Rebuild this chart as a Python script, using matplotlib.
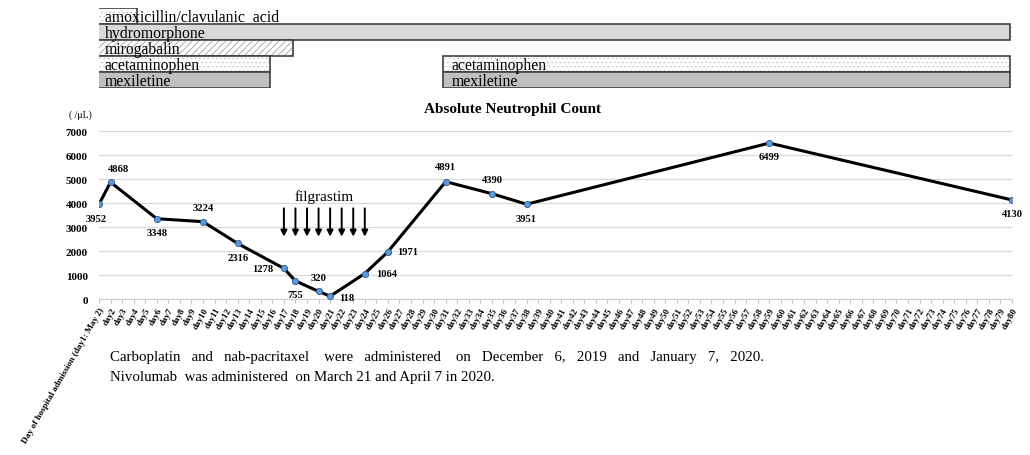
import matplotlib
matplotlib.use("Agg")
import matplotlib.pyplot as plt

plt.rcParams['font.family'] = ['Liberation Serif', 'DejaVu Serif']
plt.rcParams['hatch.linewidth'] = 0.6

# data
days = list(range(1, 81))
day_labels = ['Day of hospital admission (day1: May 2)'] + ['day%d' % d for d in days[1:]]

anc_days = [1, 2, 6, 10, 13, 17, 18, 20, 21, 24, 26, 31, 35, 38, 59, 80]
anc = [3952, 4868, 3348, 3224, 2316, 1278, 755, 320, 118, 1064, 1971, 4891, 4390, 3951, 6499, 4130]

filgrastim_days = [17, 18, 19, 20, 21, 22, 23, 24]

drug_names = ['amoxicillin/clavulanic  acid', 'hydromorphone', 'mirogabalin', 'acetaminophen', 'mexiletine']
drug_start = [[1], [1], [1], [1, 31], [1, 31]]
drug_end = [[4.5], [80], [18], [16, 80], [16, 80]]

# label offsets in points (dx, dy) for each data label
lab_off = [(-2, -10), (6, 10), (0, -10), (0, 10), (0, -10), (-15, 0), (0, -10), (0, 10),
           (12, -1), (16, 0), (14, 0), (0, 11), (0, 10), (0, -10), (0, -10), (0, -10)]

fig = plt.figure(figsize=(10.3, 4.56), dpi=100)

# top drug timeline
axd = fig.add_axes([0.0961, 0.8048, 0.8864, 0.1754])
fills = ['white', '#d9d9d9', 'white', 'white', '#bfbfbf']
hatches = ['....', None, '/////', '....', None]
hcols = ['#b4c0cc', None, '#a0a0a0', '#c8c8c8', None]
for i, name in enumerate(drug_names):
    for s, e in zip(drug_start[i], drug_end[i]):
        if hatches[i]:
            axd.barh(i, e - s, left=s - 0.2, height=1, color=fills[i], hatch=hatches[i],
                     edgecolor=hcols[i], linewidth=0)
        else:
            axd.barh(i, e - s, left=s - 0.2, height=1, color=fills[i], linewidth=0)
        axd.barh(i, e - s, left=s - 0.2, height=1, fill=False, edgecolor='#404040', linewidth=1.2)
        axd.text(s + 0.5, i + 0.05, name, fontsize=11.3, va='center', ha='left', color='black')
axd.set_xlim(1, 80)
axd.set_ylim(4.5, -0.5)
axd.axis('off')

# main chart
ax = fig.add_axes([0.0961, 0.342, 0.8864, 0.3684])
ax.plot(anc_days, anc, color='black', lw=2.2, marker='o', markersize=4.5,
        markerfacecolor='#5b9bd5', markeredgecolor='#2f5597', markeredgewidth=0.6, zorder=3)
for d, v, (dx, dy) in zip(anc_days, anc, lab_off):
    ax.annotate(str(v), (d, v), xytext=(dx, dy), textcoords='offset points',
                ha='center', va='center', fontsize=7.6, fontweight='bold')

for d in filgrastim_days:
    ax.annotate('', xy=(d, 2600), xytext=(d, 3780),
                arrowprops=dict(arrowstyle='-|>', color='black', lw=1.4, mutation_scale=9,
                                shrinkA=0, shrinkB=0))
ax.text(20.5, 4300, 'filgrastim', ha='center', va='center', fontsize=11)

ax.set_xlim(1, 80)
ax.set_ylim(0, 7000)
ax.set_yticks(range(0, 7001, 1000))
ax.set_yticklabels([str(v) for v in range(0, 7001, 1000)], fontsize=8, fontweight='bold')
ax.yaxis.grid(True, color='#d9d9d9', lw=0.9)
ax.set_axisbelow(True)
ax.set_xticks(days)
ax.set_xticklabels(day_labels, rotation=60, ha='right', rotation_mode='anchor',
                   fontsize=6.5, fontweight='bold')
ax.tick_params(axis='y', length=0, pad=8)
ax.tick_params(axis='x', length=3, color='#bfbfbf', pad=2)
for s in ['top', 'right', 'left']:
    ax.spines[s].set_visible(False)
ax.spines['bottom'].set_color('#d0d0d0')

fig.text(0.498, 0.759, 'Absolute Neutrophil Count', ha='center', va='center',
         fontsize=11, fontweight='bold')
fig.text(0.078, 0.748, '( /μL)', ha='center', va='center', fontsize=7)

fig.text(0.107, 0.217,
         'Carboplatin   and   nab-pacritaxel    were   administered    on   December   6,   2019   and   January   7,   2020.',
         ha='left', va='center', fontsize=10.7)
fig.text(0.107, 0.173, 'Nivolumab  was administered  on March 21 and April 7 in 2020.',
         ha='left', va='center', fontsize=10.7)

fig.savefig('out.png', dpi=100)
